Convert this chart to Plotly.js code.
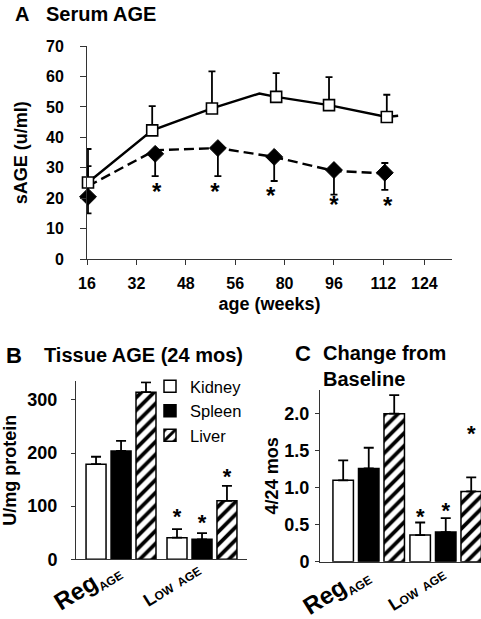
<!DOCTYPE html>
<html>
<head>
<meta charset="utf-8">
<script src="https://cdn.plot.ly/plotly-3.0.1.min.js"></script>
<style>html,body{margin:0;padding:0;background:#fff;}#chart{width:481px;height:619px;}</style>
</head>
<body>
<div id="chart"></div>
<script>
// ---------- Panel A: Serum AGE ----------
var weekLabels   = ['16','32','48','56','80','96','112','124'];
var weekTickPos  = [0, 1, 2, 3, 4, 5, 6, 6.83];
// Regular AGE diet (open squares)
var regX     = [0.02, 1.32, 2.53, 3.83, 4.90, 6.07];
var regY     = [25.2, 42.3, 49.5, 53.3, 50.6, 46.7];
var regErrUp = [11.0, 8.0, 12.2, 7.8, 9.2, 7.3];
var regLineX = [0.02, 1.32, 2.53, 3.49, 3.83, 4.90, 6.07, 6.30];
var regLineY = [25.2, 42.3, 49.5, 54.4, 53.3, 50.6, 46.7, 47.1];
// Low AGE diet (filled diamonds)
var lowX      = [0.02, 1.38, 2.65, 3.79, 5.00, 6.03];
var lowY      = [20.5, 34.6, 36.5, 33.6, 29.3, 28.4];
var lowErrDn  = [5.4, 7.3, 9.2, 7.9, 8.1, 5.6];
var lowErrUp  = [10.1, 0, 0, 0, 0, 3.2];
var lowLineX  = [0.02, 1.38, 2.65, 3.79, 5.00, 6.03];
var lowLineY  = [24.0, 35.8, 36.5, 33.6, 29.0, 28.2];
var sigA_X    = [1.41, 2.59, 3.72, 5.00, 6.09];
var sigA_Y    = [21.4, 21.4, 20.0, 17.3, 16.7];

// ---------- Panel B: Tissue AGE (24 mos) ----------
var groupLabels = ['Reg<sub><span style="font-size:12px">AGE</span></sub>',
                   '<span style="font-size:18px">L</span><span style="font-size:12px">OW  AGE</span>'];
var tissues   = ['Kidney', 'Spleen', 'Liver'];
var tissueB   = [[179, 40.7], [204, 37.6], [314.5, 110]];
var tissueBErr= [[14, 16], [19, 11.5], [18.5, 28]];
var sigB      = [[null, 76], [null, 65], [null, 152]];

// ---------- Panel C: Change from Baseline ----------
var tissueC   = [[1.10, 0.36], [1.26, 0.40], [2.00, 0.95]];
var tissueCErr= [[0.27, 0.17], [0.28, 0.19], [0.25, 0.19]];
var sigC      = [[null, 0.59], [null, 0.66], [null, 1.71]];
var yTickC    = [0, 0.5, 1, 1.5, 2];
var yTickCTxt = ['0', '0.5', '1.0', '1.5', '2.0'];

// ---------- styling helpers ----------
var W = 481, H = 619;
function fx(p){ return p / W; }
function fy(p){ return 1 - p / H; }
var FONT = 'Liberation Sans, Arial, Helvetica, sans-serif';
function bold(size){ return {family: FONT, size: size, color: '#000', weight: 'bold'}; }

var fills = [
  {color: '#ffffff'},
  {color: '#000000'},
  {color: '#ffffff', pattern: {shape: '/', fgcolor: '#000', bgcolor: '#fff', size: 9, solidity: 0.42}}
];
var barStyleB = {width: 0.247, offsets: [-0.432, -0.123, 0.185]};
var barStyleC = {width: 0.266, offsets: [-0.481, -0.149, 0.182]};

var traces = [];

// Panel A traces
traces.push({x: regLineX, y: regLineY, mode: 'lines', line: {color: '#000', width: 2.4},
  xaxis: 'x', yaxis: 'y', showlegend: false, hoverinfo: 'skip', cliponaxis: false});
traces.push({x: lowLineX, y: lowLineY, mode: 'lines', line: {color: '#000', width: 2.4, dash: '10px,5px'},
  xaxis: 'x', yaxis: 'y', showlegend: false, hoverinfo: 'skip', cliponaxis: false});
traces.push({x: lowX, y: lowY, mode: 'markers', name: 'Low AGE',
  marker: {symbol: 'diamond', size: 13, color: '#000', line: {color: '#000', width: 1}},
  error_y: {type: 'data', symmetric: false, array: lowErrUp, arrayminus: lowErrDn, color: '#000', thickness: 1.8, width: 3.5},
  xaxis: 'x', yaxis: 'y', showlegend: false, cliponaxis: false});
traces.push({x: regX, y: regY, mode: 'markers', name: 'Regular AGE',
  marker: {symbol: 'square', size: 11, color: '#fff', line: {color: '#000', width: 1.6}},
  error_y: {type: 'data', symmetric: false, array: regErrUp, arrayminus: regErrUp.map(function(){return 0;}), color: '#000', thickness: 1.8, width: 3.5},
  xaxis: 'x', yaxis: 'y', showlegend: false, cliponaxis: false});
traces.push({x: sigA_X, y: sigA_Y, mode: 'text', text: sigA_X.map(function(){return '*';}),
  textfont: bold(24), textposition: 'middle center',
  xaxis: 'x', yaxis: 'y', showlegend: false, hoverinfo: 'skip', cliponaxis: false});

// Panels B and C bar traces
function addBars(values, errs, sig, style, xa, ya, legend){
  for (var k = 0; k < tissues.length; k++){
    var m = {color: fills[k].color, line: {color: '#000', width: 1.5}};
    if (fills[k].pattern) m.pattern = fills[k].pattern;
    traces.push({type: 'bar', name: tissues[k], x: [0, 1], y: values[k],
      width: style.width, offset: style.offsets[k], marker: m,
      error_y: {type: 'data', symmetric: false, array: errs[k], arrayminus: [0, 0], color: '#000', thickness: 1.8, width: 5},
      xaxis: xa, yaxis: ya, showlegend: legend, legendrank: k + 1, hoverinfo: 'y', cliponaxis: false});
    var sx = [0, 1].map(function(i){ return i + style.offsets[k] + style.width / 2; });
    traces.push({x: sx, y: sig[k], mode: 'text', text: ['*', '*'], textfont: bold(22), textposition: 'middle center',
      xaxis: xa, yaxis: ya, showlegend: false, hoverinfo: 'skip', cliponaxis: false});
  }
}
addBars(tissueB, tissueBErr, sigB, barStyleB, 'x2', 'y2', true);
addBars(tissueC, tissueCErr, sigC, barStyleC, 'x3', 'y3', false);

var axisLine = {showline: true, linecolor: '#333', linewidth: 1, showgrid: false, zeroline: false, tickcolor: '#333'};
function ax(o){ var r = {}; for (var k in axisLine) r[k] = axisLine[k]; for (var k2 in o) r[k2] = o[k2]; return r; }

var layout = {
  width: W, height: H,
  margin: {l: 0, r: 0, t: 0, b: 0},
  paper_bgcolor: '#fff', plot_bgcolor: 'rgba(0,0,0,0)',
  barmode: 'overlay',
  font: {family: FONT, color: '#000'},
  showlegend: true,
  legend: {x: fx(150), y: fy(369), xanchor: 'left', yanchor: 'top', font: {family: FONT, size: 16.5, color: '#000'},
           bgcolor: 'rgba(0,0,0,0)', tracegroupgap: 0, itemwidth: 30, traceorder: 'normal'},
  xaxis: ax({domain: [fx(87), fx(452)], range: [0, 7.39], anchor: 'y',
    tickvals: weekTickPos, ticktext: weekLabels, ticks: 'outside', ticklen: 5,
    tickfont: bold(16), ticklabelstandoff: 4,
    title: {text: 'age (weeks)', font: bold(18), standoff: 6}}),
  yaxis: ax({domain: [fy(259.3), fy(46)], range: [0, 70], anchor: 'x', dtick: 10,
    ticks: 'outside', ticklen: 6, tickfont: bold(16), ticklabelstandoff: 13,
    title: {text: 'sAGE (u/ml)', font: bold(18), standoff: 13}}),
  xaxis2: ax({domain: [fx(76), fx(247)], range: [-0.556, 1.556], anchor: 'y2',
    tickvals: [0, 1], ticktext: groupLabels, tickangle: -32, ticks: '', tickfont: bold(24),
    ticklabelstandoff: -14, ticklabelshift: -6}),
  yaxis2: ax({domain: [fy(559.3), fy(381.3)], range: [0, 335], anchor: 'x2',
    tickvals: [0, 100, 200, 300], ticks: 'outside', ticklen: 4, tickfont: bold(18), ticklabelstandoff: 10,
    title: {text: 'U/mg protein', font: bold(18), standoff: 7}}),
  xaxis3: ax({domain: [fx(320), 1], range: [-0.649, 1.442], anchor: 'y3',
    tickvals: [0, 1], ticktext: groupLabels, tickangle: -32, ticks: '', tickfont: bold(24),
    ticklabelstandoff: -12, ticklabelshift: -6}),
  yaxis3: ax({domain: [fy(561.7), fy(390)], range: [0, 2.32], anchor: 'x3',
    tickvals: yTickC, ticktext: yTickCTxt, ticks: 'outside', ticklen: 4, tickfont: bold(18), ticklabelstandoff: 2,
    title: {text: '4/24 mos', font: bold(18), standoff: 1}}),
  annotations: [
    {text: 'A', x: fx(13), y: fy(14), xref: 'paper', yref: 'paper', xanchor: 'left', yanchor: 'middle', showarrow: false, font: bold(20)},
    {text: 'Serum AGE', x: fx(44), y: fy(14), xref: 'paper', yref: 'paper', xanchor: 'left', yanchor: 'middle', showarrow: false, font: bold(20)},
    {text: 'B', x: fx(4), y: fy(355), xref: 'paper', yref: 'paper', xanchor: 'left', yanchor: 'middle', showarrow: false, font: bold(22)},
    {text: 'Tissue AGE (24 mos)', x: fx(42), y: fy(355), xref: 'paper', yref: 'paper', xanchor: 'left', yanchor: 'middle', showarrow: false, font: bold(20)},
    {text: 'C', x: fx(293), y: fy(353), xref: 'paper', yref: 'paper', xanchor: 'left', yanchor: 'middle', showarrow: false, font: bold(22)},
    {text: 'Change from<br>Baseline', x: fx(321), y: fy(340), xref: 'paper', yref: 'paper', xanchor: 'left', yanchor: 'top', align: 'left', showarrow: false, font: bold(20)}
  ]
};

Plotly.newPlot('chart', traces, layout, {displayModeBar: false, staticPlot: true});
</script>
</body>
</html>
